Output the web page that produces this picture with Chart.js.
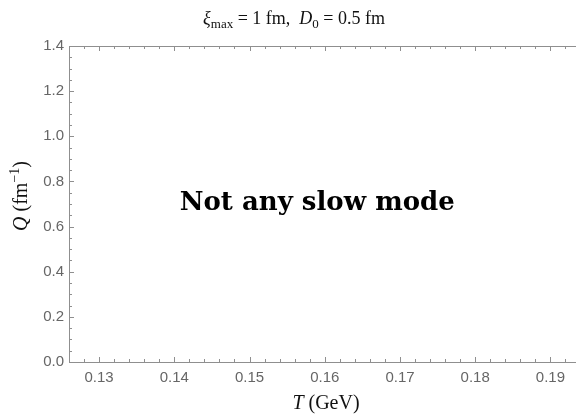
<!DOCTYPE html>
<html>
<head>
<meta charset="utf-8">
<script src="https://cdn.jsdelivr.net/npm/chart.js@4.4.1/dist/chart.umd.min.js"></script>
<style>
  html, body { margin: 0; padding: 0; background: #fff; }
  #wrap { width: 576px; height: 418px; }
</style>
</head>
<body>
<div id="wrap"><canvas id="c" width="576" height="418"></canvas></div>
<script>
// --- axis ranges and tick labels ---
const xRange = [0.126, 0.1934];
const yRange = [0, 1.4];
const xMajorTicks = [0.13, 0.14, 0.15, 0.16, 0.17, 0.18, 0.19];
const yMajorTicks = [0, 0.2, 0.4, 0.6, 0.8, 1.0, 1.2, 1.4];
const xMinorStep = 0.002;
const yMinorStep = 0.05;

// --- data: no slow mode found, so the series is empty ---
const slowModePoints = [];
const note = { text: 'Not any slow mode', x: 0.159, y: 0.705 };

const frameColor = '#8f8f8f';
const tickColor = '#666666';
const serif = '"Liberation Serif", serif';

// draws a row of text pieces (italic / sub / sup) centred on cx
function drawRich(ctx, runs, cx, baseY, size) {
  const fontFor = r => `${r.italic ? 'italic ' : ''}${Math.round(size * (r.scale || 1))}px ${serif}`;
  let total = 0;
  runs.forEach(r => { ctx.font = fontFor(r); r.w = ctx.measureText(r.t).width; total += r.w; });
  let x = cx - total / 2;
  ctx.textAlign = 'left';
  ctx.textBaseline = 'alphabetic';
  runs.forEach(r => {
    ctx.font = fontFor(r);
    ctx.fillText(r.t, x, baseY + (r.dy || 0) * size);
    x += r.w;
  });
}

const frameTicks = {
  id: 'frameTicks',
  afterDraw(chart) {
    const { ctx, chartArea: a, scales: { x, y } } = chart;
    ctx.save();
    ctx.strokeStyle = frameColor;
    ctx.lineWidth = 1;
    ctx.beginPath();
    for (let v = 0.126; v <= xRange[1]; v += xMinorStep) {
      const major = xMajorTicks.some(t => Math.abs(t - v) < 1e-6);
      const px = Math.round(x.getPixelForValue(v)) + 0.5;
      const len = major ? 5 : 3;
      ctx.moveTo(px, a.bottom); ctx.lineTo(px, a.bottom - len);
      ctx.moveTo(px, a.top); ctx.lineTo(px, a.top + len);
    }
    for (let v = yRange[0]; v <= yRange[1] + 1e-6; v += yMinorStep) {
      const major = yMajorTicks.some(t => Math.abs(t - v) < 1e-6);
      const py = Math.round(y.getPixelForValue(v)) + 0.5;
      const len = major ? 5 : 3;
      ctx.moveTo(a.left, py); ctx.lineTo(a.left + len, py);
    }
    ctx.stroke();
    ctx.restore();
  }
};

const labels = {
  id: 'labels',
  afterDraw(chart) {
    const { ctx, scales: { x, y } } = chart;
    ctx.save();
    ctx.fillStyle = '#111';
    // title
    drawRich(ctx, [
      { t: 'ξ', italic: true },
      { t: 'max', scale: 0.7, dy: 0.22 },
      { t: ' = 1 fm,  ' },
      { t: 'D', italic: true },
      { t: '0', scale: 0.7, dy: 0.22 },
      { t: ' = 0.5 fm' }
    ], 294, 24, 18);
    // x axis title
    drawRich(ctx, [{ t: 'T', italic: true }, { t: ' (GeV)' }], 326, 409, 20);
    // y axis title
    ctx.save();
    ctx.translate(27, 196);
    ctx.rotate(-Math.PI / 2);
    drawRich(ctx, [
      { t: 'Q', italic: true },
      { t: ' (fm' },
      { t: '−1', scale: 0.7, dy: -0.38 },
      { t: ')' }
    ], 0, 0, 20);
    ctx.restore();
    // note in the middle of the plot
    ctx.font = 'bold 26px "DejaVu Serif", serif';
    ctx.textAlign = 'center';
    ctx.textBaseline = 'middle';
    ctx.fillStyle = '#000';
    ctx.fillText(note.text, x.getPixelForValue(note.x), y.getPixelForValue(note.y));
    ctx.restore();
  }
};

new Chart(document.getElementById('c'), {
  type: 'scatter',
  data: {
    datasets: [{
      label: 'slow mode',
      data: slowModePoints,
      pointRadius: 2,
      backgroundColor: '#3366cc'
    }]
  },
  options: {
    responsive: false,
    devicePixelRatio: 1,
    animation: false,
    layout: { padding: 0 },
    plugins: { legend: { display: false }, tooltip: { enabled: false }, title: { display: false } },
    scales: {
      x: {
        type: 'linear', position: 'bottom', min: xRange[0], max: xRange[1],
        afterBuildTicks: s => { s.ticks = xMajorTicks.map(v => ({ value: v })); },
        afterFit: s => { s.height = 56; },
        grid: { display: false, drawTicks: false },
        border: { display: true, color: frameColor, width: 1 },
        ticks: {
          color: tickColor, padding: 7, autoSkip: false, maxRotation: 0,
          font: { family: '"Liberation Sans", Arial, sans-serif', size: 15 },
          callback: v => v.toFixed(2)
        }
      },
      xTop: {
        type: 'linear', position: 'top', min: xRange[0], max: xRange[1],
        afterFit: s => { s.height = 46; },
        grid: { display: false, drawTicks: false },
        border: { display: true, color: frameColor, width: 1 },
        ticks: { display: false }
      },
      y: {
        type: 'linear', position: 'left', min: yRange[0], max: yRange[1],
        afterBuildTicks: s => { s.ticks = yMajorTicks.map(v => ({ value: v })); },
        afterFit: s => { s.width = 69; },
        grid: { display: false, drawTicks: false },
        border: { display: true, color: frameColor, width: 1 },
        ticks: {
          color: tickColor, padding: 5,
          font: { family: '"Liberation Sans", Arial, sans-serif', size: 15 },
          callback: v => v.toFixed(1)
        }
      }
    }
  },
  plugins: [frameTicks, labels]
});
</script>
</body>
</html>
